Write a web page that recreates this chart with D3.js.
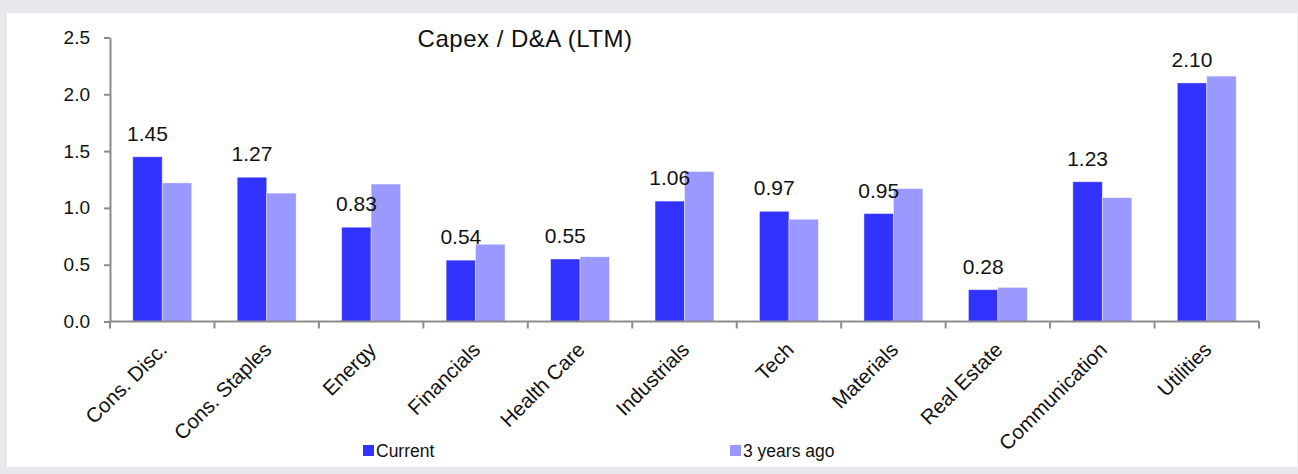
<!DOCTYPE html>
<html>
<head>
<meta charset="utf-8">
<script src="https://cdn.jsdelivr.net/npm/d3@7"></script>
<style>
  body { margin: 0; background: #e7e8ec; }
  svg { display: block; font-family: "Liberation Sans", Arial, Helvetica, sans-serif; }
</style>
</head>
<body>
<div id="chart"></div>
<script>
// data
const sectors = ['Cons. Disc.', 'Cons. Staples', 'Energy', 'Financials', 'Health Care',
  'Industrials', 'Tech', 'Materials', 'Real Estate', 'Communication', 'Utilities']
const current = [1.45, 1.27, 0.83, 0.54, 0.55, 1.06, 0.97, 0.95, 0.28, 1.23, 2.10]
const threeYearsAgo = [1.22, 1.13, 1.21, 0.68, 0.57, 1.32, 0.90, 1.17, 0.30, 1.09, 2.16]
const seriesNames = ['Current', '3 years ago']
const yTicks = [0, 0.5, 1.0, 1.5, 2.0, 2.5]

const colors = { 'Current': '#3333ff', '3 years ago': '#9999ff' }

const W = 1298, H = 474

let svg = d3.select('#chart')
    .append('svg')
    .attr('width', W)
    .attr('height', H)

// white panel
svg.append('rect')
    .attr('x', 7).attr('y', 13)
    .attr('width', 1290).attr('height', 454)
    .attr('fill', '#ffffff')

let x = d3.scaleBand()
    .domain(sectors)
    .range([110, 1259])
    .padding(0)

let bw = x.bandwidth()
let x1 = d3.scaleBand()
    .domain(seriesNames)
    .range([bw * 0.218, bw * 0.782])
    .padding(0)

let y = d3.scaleLinear()
    .domain([0, 2.5])
    .range([321.5, 37.5])

let rows = sectors.map((s, i) => ({ sector: s, values: [
    { key: 'Current', v: current[i] },
    { key: '3 years ago', v: threeYearsAgo[i] }
] }))

// bars
let groups = svg.append('g')
    .selectAll('g')
    .data(rows)
    .join('g')
    .attr('transform', d => 'translate(' + x(d.sector) + ',0)')

groups.selectAll('rect')
    .data(d => d.values)
    .join('rect')
    .attr('x', d => x1(d.key))
    .attr('y', d => y(d.v))
    .attr('width', x1.bandwidth())
    .attr('height', d => y(0) - y(d.v))
    .attr('fill', d => colors[d.key])
    .attr('stroke', '#ffffff')
    .attr('stroke-opacity', 0.5)
    .attr('stroke-width', 0.8)

// value labels above current bars
groups.append('text')
    .attr('x', x1('Current') + x1.bandwidth() / 2)
    .attr('y', d => y(d.values[0].v) - 16)
    .attr('text-anchor', 'middle')
    .attr('font-size', 21)
    .attr('fill', '#111')
    .text(d => d3.format('.2f')(d.values[0].v))

// y axis
let yAxis = svg.append('g')
    .attr('transform', 'translate(110,0)')
    .call(d3.axisLeft(y).tickValues(yTicks).tickFormat(d3.format('.1f'))
        .tickSize(6).tickSizeOuter(0).tickPadding(14))
yAxis.select('.domain').attr('stroke', '#8c8c8c').attr('stroke-width', 2)
yAxis.selectAll('.tick line').attr('stroke', '#8c8c8c').attr('stroke-width', 2)
yAxis.selectAll('.tick text').attr('font-size', 19).attr('fill', '#111')
    .attr('font-family', '"Liberation Sans", Arial, sans-serif')

// x axis: baseline plus ticks on category boundaries
let xAxis = svg.append('g')
xAxis.append('line')
    .attr('x1', 110).attr('x2', 1259)
    .attr('y1', y(0)).attr('y2', y(0))
    .attr('stroke', '#8c8c8c').attr('stroke-width', 2)
let bounds = sectors.map(s => x(s)).concat([x.range()[1]])
xAxis.selectAll('line.b')
    .data(bounds)
    .join('line')
    .attr('class', 'b')
    .attr('x1', d => d).attr('x2', d => d)
    .attr('y1', y(0)).attr('y2', y(0) + 7)
    .attr('stroke', '#8c8c8c').attr('stroke-width', 2)

xAxis.selectAll('text')
    .data(sectors)
    .join('text')
    .attr('transform', d => 'translate(' + (x(d) + bw / 2 + 6) + ',351) rotate(-45)')
    .attr('text-anchor', 'end')
    .attr('font-size', 20.5)
    .attr('fill', '#111')
    .text(d => d)

// title
svg.append('text')
    .attr('x', 525).attr('y', 47)
    .attr('text-anchor', 'middle')
    .attr('font-size', 24)
    .attr('letter-spacing', 0.5)
    .attr('fill', '#111')
    .text('Capex / D&A (LTM)')

// legend
let legendPos = [{ key: 'Current', x: 363 }, { key: '3 years ago', x: 730 }]
let legend = svg.append('g')
    .selectAll('g')
    .data(legendPos)
    .join('g')
    .attr('transform', d => 'translate(' + d.x + ',445)')
legend.append('rect')
    .attr('width', 11).attr('height', 11)
    .attr('fill', d => colors[d.key])
legend.append('text')
    .attr('x', 13).attr('y', 12)
    .attr('font-size', 17.5)
    .attr('fill', '#111')
    .text(d => d.key)
</script>
</body>
</html>
